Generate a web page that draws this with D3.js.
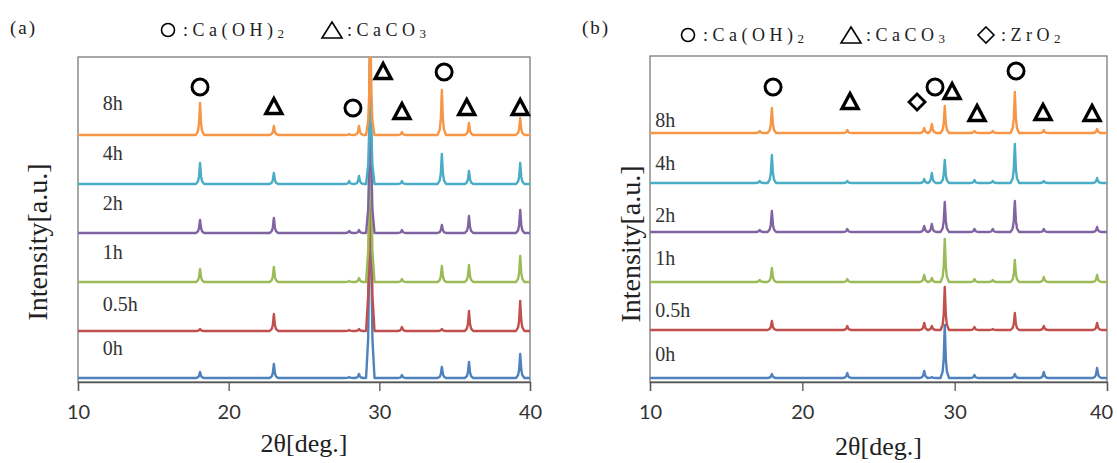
<!DOCTYPE html>
<html><head><meta charset="utf-8">
<script src="https://cdn.jsdelivr.net/npm/d3@7"></script>
<style>html,body{margin:0;padding:0;background:#fff;}svg{display:block;}</style>
</head><body>
<svg id="chart" width="1117" height="463"></svg>
<script>
// ---------------- data ----------------
const xTicks = [10, 20, 30, 40];
const seriesNames = ["0h", "0.5h", "1h", "2h", "4h", "8h"];
const seriesColors = ["#4F81BD", "#C0504D", "#9BBB59", "#8064A2", "#4BACC6", "#F79646"];
// vertical offsets (a.u.) of each stacked pattern
const offsetsA = [4, 51, 100, 149, 198, 247];
const offsetsB = [4, 52, 100, 150, 199, 249];

// panel (a): peak positions (2θ) and peak heights per series (a.u.)
const peakPosA = [18.1, 23.0, 28.0, 28.65, 29.4, 31.5, 34.15, 35.95, 39.35];
const a_0h  = [6, 14, 1, 4, 330, 3, 11, 16, 24];
const a_05h = [2, 17, 1, 2, 300, 4, 2, 20, 30];
const a_1h  = [13, 15, 1, 4, 260, 3, 16, 17, 26];
const a_2h  = [13, 15, 2, 3, 200, 3, 8, 17, 23];
const a_4h  = [21, 11, 3, 8, 160, 3, 30, 13, 21];
const a_8h  = [32, 9, 1, 9, 120, 3, 45, 12, 17];

// panel (b)
const peakPosB = [17.2, 18.0, 22.95, 28.0, 28.5, 29.35, 31.3, 32.5, 33.95, 35.85, 39.35];
const b_0h  = [0, 4, 5, 7, 1, 53, 3, 0, 4, 6, 10];
const b_05h = [0, 9, 4, 7, 4, 43, 3, 1, 17, 4, 7];
const b_1h  = [2, 14, 3, 7, 4, 43, 3, 2, 22, 5, 7];
const b_2h  = [2, 21, 3, 6, 8, 30, 3, 3, 31, 3, 5];
const b_4h  = [2, 28, 2, 4, 10, 23, 3, 2, 39, 2, 5];
const b_8h  = [2, 25, 3, 5, 9, 27, 2, 2, 41, 3, 4];

// phase markers: type (o = Ca(OH)2, t = CaCO3, d = ZrO2), 2θ, level (a.u.)
const markA_type = ["o", "t", "o", "t", "t", "o", "t", "t"];
const markA_x    = [18.1, 23.0, 28.25, 30.25, 31.5, 34.3, 35.8, 39.35];
const markA_y    = [295, 276, 274, 311, 271, 310, 275, 275];
const markB_type = ["o", "t", "d", "o", "t", "t", "o", "t", "t"];
const markB_x    = [18.08, 23.13, 27.53, 28.71, 29.83, 31.47, 34.03, 35.8, 39.02];
const markB_y    = [295, 281, 280, 295, 291, 269, 311, 270, 269];

// ---------------- layout ----------------
const svg = d3.select("#chart");
svg.append("rect").attr("width", 1117).attr("height", 463).attr("fill", "#fff");

const serif = "'Liberation Serif','Times New Roman',serif";
const sans = "Lato,'Open Sans',sans-serif";

const panels = [
  { id: "a", x0: 78, x1: 530, y0: 382, y1: 57, offsets: offsetsA, pos: peakPosA,
    series: [a_0h, a_05h, a_1h, a_2h, a_4h, a_8h],
    mt: markA_type, mx: markA_x, my: markA_y,
    labelX: 11.65, labelY: [34, 78, 130, 179, 229, 279],
    title: "(a)", titleX: 10, titleY: 34,
    ylabX: 47, ylabY: 242, xlabY: 452 },
  { id: "b", x0: 650, x1: 1107, y0: 382, y1: 56, offsets: offsetsB, pos: peakPosB,
    series: [b_0h, b_05h, b_1h, b_2h, b_4h, b_8h],
    mt: markB_type, mx: markB_x, my: markB_y,
    labelX: 10.35, labelY: [28, 72, 124, 167, 219, 262],
    title: "(b)", titleX: 582, titleY: 34,
    ylabX: 640, ylabY: 244, xlabY: 455 }
];

// peak profile template (2θ offset, fraction of peak height)
const tplDx = [-0.28, -0.14, -0.07, 0, 0.07, 0.14, 0.28];
const tplF  = [0, 0.12, 0.35, 1, 0.35, 0.12, 0];

function buildPoints(pos, heights, off) {
  const pts = [[10, off]];
  pos.forEach((p, i) => {
    if (!heights[i]) return;
    tplDx.forEach((dx, k) => pts.push([p + dx, off + heights[i] * tplF[k]]));
  });
  pts.push([40, off]);
  return pts;
}

function marker(g, type, cx, cy, big) {
  if (type === "o") {
    g.append("circle").attr("cx", cx).attr("cy", cy).attr("r", big ? 8 : 6.5)
      .attr("fill", "none").attr("stroke", "#000").attr("stroke-width", big ? 3 : 1.6);
  } else if (type === "t") {
    const w = big ? 8 : 10, h = big ? 7.5 : 8;
    g.append("path").attr("d", `M${cx},${cy - h}L${cx + w},${cy + h}L${cx - w},${cy + h}Z`)
      .attr("fill", "none").attr("stroke", "#000").attr("stroke-width", big ? 3.4 : 1.6)
      .attr("stroke-linejoin", "miter");
  } else {
    const r = 8;
    g.append("path").attr("d", `M${cx},${cy - r}L${cx + r},${cy}L${cx},${cy + r}L${cx - r},${cy}Z`)
      .attr("fill", "none").attr("stroke", "#000").attr("stroke-width", big ? 2.8 : 1.6);
  }
}

panels.forEach(P => {
  const x = d3.scaleLinear().domain([10, 40]).range([P.x0, P.x1]);
  const y = d3.scaleLinear().domain([0, P.y0 - P.y1]).range([P.y0, P.y1]);
  const g = svg.append("g");

  const clipId = "clip" + P.id;
  svg.append("clipPath").attr("id", clipId).append("rect")
    .attr("x", P.x0).attr("y", P.y1).attr("width", P.x1 - P.x0).attr("height", P.y0 - P.y1);

  // frame
  g.append("rect").attr("x", P.x0).attr("y", P.y1).attr("width", P.x1 - P.x0).attr("height", P.y0 - P.y1)
    .attr("fill", "none").attr("stroke", "#7a7a7a").attr("stroke-width", 1.3);

  // lines
  const line = d3.line().x(d => x(d[0])).y(d => y(d[1]));
  const lg = g.append("g").attr("clip-path", `url(#${clipId})`);
  P.series.forEach((hs, i) => {
    lg.append("path").attr("d", line(buildPoints(P.pos, hs, P.offsets[i])))
      .attr("fill", "none").attr("stroke", seriesColors[i]).attr("stroke-width", 2.4)
      .attr("stroke-linejoin", "round");
  });

  // x axis
  const ax = g.append("g").attr("transform", `translate(0,${P.y0})`)
    .call(d3.axisBottom(x).tickValues(xTicks).tickSize(9).tickPadding(14).tickFormat(d3.format("d")));
  ax.select(".domain").attr("stroke", "#555").attr("stroke-width", 1.3);
  ax.selectAll(".tick line").attr("stroke", "#555").attr("stroke-width", 1.3);
  ax.selectAll(".tick text").attr("font-family", sans).attr("font-size", 20).attr("fill", "#333")
    .attr("dx", d => d === 40 && P.id === "b" ? -6 : 0);

  // series labels
  seriesNames.forEach((n, i) => {
    g.append("text").attr("x", x(P.labelX)).attr("y", y(P.labelY[i])).attr("dy", "0.35em")
      .attr("font-family", serif).attr("font-size", 20).attr("fill", "#333").text(n);
  });

  // markers
  P.mt.forEach((t, i) => marker(g, t, x(P.mx[i]), y(P.my[i]), true));

  // axis titles
  g.append("text").attr("x", (P.x0 + P.x1) / 2).attr("y", P.xlabY).attr("text-anchor", "middle")
    .attr("font-family", serif).attr("font-size", 26).attr("fill", "#222").text("2θ[deg.]");
  g.append("text").attr("transform", `translate(${P.ylabX},${P.ylabY}) rotate(-90)`)
    .attr("text-anchor", "middle").attr("font-family", serif).attr("font-size", 28).attr("fill", "#222")
    .text("Intensity[a.u.]");

  // panel title
  g.append("text").attr("x", P.titleX).attr("y", P.titleY).attr("font-family", serif)
    .attr("font-size", 19).attr("letter-spacing", 2).attr("fill", "#222").text(P.title);
});

// legends
function legendItem(type, sx, cy, label, sub) {
  marker(svg, type, sx, cy, false);
  const t = svg.append("text").attr("x", sx + 15).attr("y", cy + 6).attr("font-family", serif)
    .attr("font-size", 18).attr("letter-spacing", 4.5).attr("fill", "#222");
  t.append("tspan").text(label);
  t.append("tspan").attr("font-size", 13).attr("dy", 2).text(sub);
}
legendItem("o", 168, 30, ":Ca(OH)", "2");
legendItem("t", 332, 30, ":CaCO", "3");
legendItem("o", 688, 35, ":Ca(OH)", "2");
legendItem("t", 851, 35, ":CaCO", "3");
legendItem("d", 986, 35, ":ZrO", "2");
</script>
</body></html>
